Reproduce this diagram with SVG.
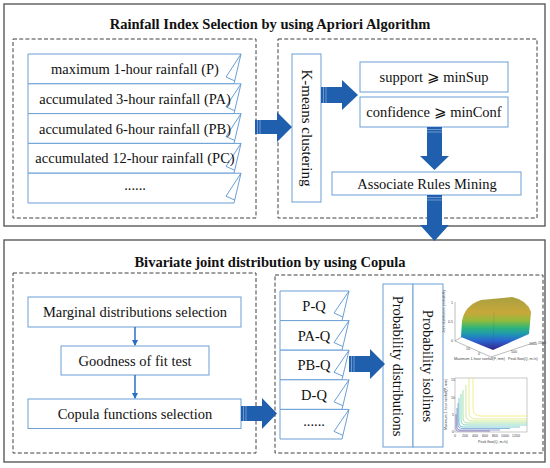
<svg xmlns="http://www.w3.org/2000/svg" width="550" height="468" viewBox="0 0 550 468">
<defs>
<style>
.outer{fill:none;stroke:#5a5a5a;stroke-width:1.4}
.dash{fill:none;stroke:#404040;stroke-width:1;stroke-dasharray:4,2.2}
.node{fill:#fff;stroke:#6b9fd6;stroke-width:1}
.fold{fill:none;stroke:#6b9fd6;stroke-width:1}
.t{font-family:"Liberation Serif","Times New Roman",serif;font-size:14.5px;fill:#111;text-anchor:middle}
.title{font-family:"Liberation Serif","Times New Roman",serif;font-size:14.5px;font-weight:bold;fill:#111;text-anchor:middle}
.big{fill:#1f5fae}
.stripe{stroke:#8fb2dc;stroke-width:0.7}
.thin{stroke:#2a6fc4;stroke-width:1.5;fill:none}
.ax{stroke:#555;stroke-width:0.4;fill:none}
.tk{font-family:"Liberation Sans",Arial,sans-serif;font-size:3.6px;fill:#444}
</style>
<marker id="ah" markerWidth="6" markerHeight="6" refX="5" refY="3" orient="auto" markerUnits="userSpaceOnUse">
<path d="M0,0 L6,3 L0,6 Z" fill="#2a6fc4"/>
</marker>
<linearGradient id="surf" gradientUnits="userSpaceOnUse" x1="0" y1="297" x2="0" y2="350">
<stop offset="0" stop-color="#a9a040"/>
<stop offset="0.3" stop-color="#c8a83a"/>
<stop offset="0.45" stop-color="#8fbb3c"/>
<stop offset="0.58" stop-color="#2fb47a"/>
<stop offset="0.7" stop-color="#1f98b0"/>
<stop offset="0.82" stop-color="#2a66d0"/>
<stop offset="1" stop-color="#35228a"/>
</linearGradient>
</defs>

<!-- outer frames -->
<rect class="outer" x="4" y="4" width="541" height="222"/>
<rect class="outer" x="4" y="240" width="541" height="222"/>
<rect class="dash" x="13" y="39" width="243" height="179"/>
<rect class="dash" x="278" y="39" width="259" height="179"/>
<rect class="dash" x="13" y="273" width="243" height="180"/>
<rect class="dash" x="275" y="275" width="268" height="178"/>

<text class="title" x="270" y="29">Rainfall Index Selection by using Apriori Algorithm</text>
<text class="title" x="270" y="267">Bivariate joint distribution by using Copula</text>

<!-- top-left tags -->
<g id="tag-p">
<path class="node" d="M28,54 H241 L234,83.8 H28 Z"/>
<path class="fold" d="M241,54 L226,77 L235,81"/>
<text class="t" x="135" y="74">maximum 1-hour rainfall (P)</text>
</g>
<g id="tag-pa">
<path class="node" d="M28,83.8 H241 L234,113.6 H28 Z"/>
<path class="fold" d="M241,83.8 L226,106.8 L235,110.8"/>
<text class="t" x="135" y="103.8">accumulated 3-hour rainfall (PA)</text>
</g>
<g id="tag-pb">
<path class="node" d="M28,113.6 H241 L234,143.4 H28 Z"/>
<path class="fold" d="M241,113.6 L226,136.6 L235,140.6"/>
<text class="t" x="135" y="133.6">accumulated 6-hour rainfall (PB)</text>
</g>
<g id="tag-pc">
<path class="node" d="M28,143.4 H241 L234,173.2 H28 Z"/>
<path class="fold" d="M241,143.4 L226,166.4 L235,170.4"/>
<text class="t" x="135" y="163.4">accumulated 12-hour rainfall (PC)</text>
</g>
<g id="tag-more">
<path class="node" d="M28,173.2 H241 L234,203 H28 Z"/>
<path class="fold" d="M241,173.2 L226,196.2 L235,200.2"/>
<text class="t" x="135" y="190">......</text>
</g>

<g id="kmeans">
<rect class="node" x="292" y="54" width="29" height="148"/>
<text class="t" transform="translate(306.5,128) rotate(90)" x="0" y="5" style="font-size:15px">K-means clustering</text>
</g>
<g id="support">
<rect class="node" x="360" y="62" width="148" height="30"/>
<text class="t" x="434" y="82">support ⩾ minSup</text>
</g>
<g id="confidence">
<rect class="node" x="360" y="97" width="148" height="30"/>
<text class="t" x="434" y="117">confidence ⩾ minConf</text>
</g>
<g id="associate">
<rect class="node" x="332" y="172" width="189" height="23"/>
<text class="t" x="427" y="188.5">Associate Rules Mining</text>
</g>

<!-- bottom-left -->
<g id="marginal">
<rect class="node" x="28" y="297" width="213" height="30"/>
<text class="t" x="135" y="317">Marginal distributions selection</text>
</g>
<g id="goodness">
<rect class="node" x="61" y="346" width="148" height="29"/>
<text class="t" x="135" y="365.5">Goodness of fit test</text>
</g>
<g id="copula">
<rect class="node" x="28" y="399" width="213" height="29.5"/>
<text class="t" x="135" y="419">Copula functions selection</text>
</g>

<!-- bottom-right tags -->
<g id="tag-pq">
<path class="node" d="M280,291 H349 L342,320.6 H280 Z"/>
<path class="fold" d="M349,291 L334,313 L343,317"/>
<text class="t" x="314" y="311">P-Q</text>
</g>
<g id="tag-paq">
<path class="node" d="M280,320.6 H349 L342,350.2 H280 Z"/>
<path class="fold" d="M349,320.6 L334,342.6 L343,346.6"/>
<text class="t" x="314" y="340.6">PA-Q</text>
</g>
<g id="tag-pbq">
<path class="node" d="M280,350.2 H349 L342,379.8 H280 Z"/>
<path class="fold" d="M349,350.2 L334,372.2 L343,376.2"/>
<text class="t" x="314" y="370.2">PB-Q</text>
</g>
<g id="tag-dq">
<path class="node" d="M280,379.8 H349 L342,409.4 H280 Z"/>
<path class="fold" d="M349,379.8 L334,401.8 L343,405.8"/>
<text class="t" x="314" y="399.8">D-Q</text>
</g>
<g id="tag-more2">
<path class="node" d="M280,409.4 H349 L342,439 H280 Z"/>
<path class="fold" d="M349,409.4 L334,431.4 L343,435.4"/>
<text class="t" x="314" y="426">......</text>
</g>

<g id="prob-dist">
<rect class="node" x="383" y="284" width="30" height="163"/>
<text class="t" transform="translate(398,366) rotate(90)" x="0" y="5">Probability distributions</text>
</g>
<g id="prob-iso">
<rect class="node" x="413" y="284" width="30" height="163"/>
<text class="t" transform="translate(428,366) rotate(90)" x="0" y="5">Probability isolines</text>
</g>

<!-- 3D surface chart -->
<g id="chart-surface">
<path class="ax" d="M455,302 V341 L491,357 L536,342"/>
<path class="ax" d="M455,341 L470,332"/>
<path d="M462,321 Q465,305 481,300 L512,297 Q527,300 531,312 L529,334 L493,350 L461,337 Z" fill="url(#surf)"/>
<path d="M493,350 L494,312" stroke="#3a3050" stroke-width="0.3" opacity="0.4"/>
<text class="tk" x="451" y="304">1</text>
<text class="tk" x="448" y="323">0.5</text>
<text class="tk" x="451" y="342">0</text>
<text class="tk" x="466" y="350">10</text>
<text class="tk" x="478" y="355">0</text>
<text class="tk" x="511" y="353">500</text>
<text class="tk" x="529" y="345">1000</text>
<text class="tk" x="538" y="344">1500</text>
<text class="tk" transform="translate(445,333) rotate(-90)">Joint distribution probability</text>
<text class="tk" x="454" y="360">Maximum 1-hour rainfall(P, mm)</text>
<text class="tk" x="508" y="360">Peak flow(Q, m³/s)</text>
</g>

<!-- contour chart -->
<g id="chart-contour">
<rect x="455" y="378" width="72" height="54" fill="#fff" stroke="#777" stroke-width="0.4"/>
<g fill="none" stroke-width="0.6">
<path d="M473,378 V408 Q473,416 481,416 H527" stroke="#f0e040"/>
<path d="M469,378 V412 Q469,419 476,419 H527" stroke="#d8e24a"/>
<path d="M466,385 V415 Q466,421 472,421 H527" stroke="#a8dc58"/>
<path d="M463,390 V418 Q463,423 468,423 H527" stroke="#6ccf74"/>
<path d="M461,394 V420 Q461,425 466,425 H527" stroke="#3fbf9a"/>
<path d="M459,398 V423 Q459,427 463,427 H520" stroke="#2aa7b4"/>
<path d="M458,403 V425 Q458,428.5 462,428.5 H510" stroke="#3a86c4"/>
<path d="M457,408 V427 Q457,430 460,430 H500" stroke="#4a62b8"/>
<path d="M456,414 V429 Q456,431 458,431 H490" stroke="#5a3f9c"/>
</g>
<text class="tk" x="451" y="381">15</text>
<text class="tk" x="451" y="399">10</text>
<text class="tk" x="452" y="416">5</text>
<text class="tk" x="452" y="433">0</text>
<text class="tk" x="454" y="437">0</text>
<text class="tk" x="462" y="437">200</text>
<text class="tk" x="472" y="437">400</text>
<text class="tk" x="482" y="437">600</text>
<text class="tk" x="492" y="437">800</text>
<text class="tk" x="501" y="437">1000</text>
<text class="tk" x="512" y="437">1200</text>
<text class="tk" x="478" y="443">Peak flow(Q, m³/s)</text>
<text class="tk" transform="translate(447,430) rotate(-90)">Maximum 1-hour rainfall(P, mm)</text>
</g>

<!-- connectors -->
<g id="connectors">
<path class="big" d="M255,120 H277 V112 L292,127 L277,142 V134 H255 Z"/>
<path class="stripe" d="M257.5,120 V134 M260,120 V134"/>
<path class="big" d="M321,87 H342 V80 L358,95 L342,110 V103 H321 Z"/>
<path class="stripe" d="M323.5,87 V103 M326,87 V103"/>
<path class="big" d="M427,127 H442 V156 H449 L434.5,170 L420,156 H427 Z"/>
<path class="stripe" d="M427,129.5 H442 M427,132 H442"/>
<path class="big" d="M427,195 H442 V225 H449 L434.5,241 L420,225 H427 Z"/>
<path class="stripe" d="M427,197.5 H442 M427,200 H442"/>
<path class="big" d="M241,406 H262 V398 L277,413.5 L262,429 V421 H241 Z"/>
<path class="stripe" d="M243.5,406 V421 M246,406 V421"/>
<path class="big" d="M349,356 H370 V349 L385,364 L370,379 V372 H349 Z"/>
<path class="stripe" d="M351.5,356 V372 M354,356 V372"/>
<line class="thin" x1="135" y1="327" x2="135" y2="345" marker-end="url(#ah)"/>
<line class="thin" x1="135" y1="375" x2="135" y2="398" marker-end="url(#ah)"/>
</g>
</svg>
